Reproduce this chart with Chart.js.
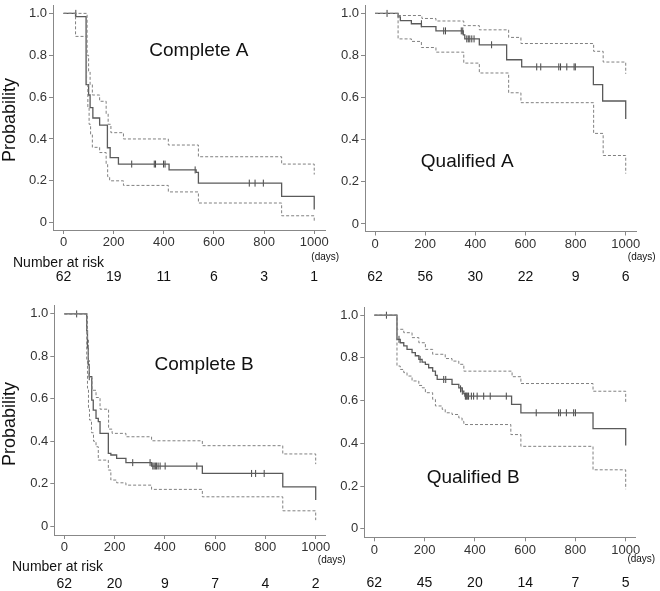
<!DOCTYPE html>
<html>
<head>
<meta charset="utf-8">
<script src="https://cdn.jsdelivr.net/npm/chart.js@4"></script>
<style>
    body { margin: 0; background: #fff; }
    #wrap { position: relative; width: 660px; height: 591px; }
    canvas { position: absolute; }
</style>
</head>
<body>
<div id="wrap">
    <canvas id="c1" width="350" height="290" style="left:0;top:0"></canvas>
    <canvas id="c2" width="330" height="290" style="left:330px;top:0"></canvas>
    <canvas id="c3" width="350" height="301" style="left:0;top:290px"></canvas>
    <canvas id="c4" width="330" height="301" style="left:330px;top:290px"></canvas>
</div>
<script>
const xTicks = [0, 200, 400, 600, 800, 1000];
const yTicks = [0, 0.2, 0.4, 0.6, 0.8, 1.0];
const riskDays = [0, 200, 400, 600, 800, 1000];

// Complete A
const estCA = [[0,1],[48,0.984],[90,0.66],[100,0.61],[106,0.55],[117,0.50],[144,0.466],[175,0.358],[186,0.311],[219,0.28],[421,0.252],[529,0.24],[538,0.189],[870,0.126],[1000,0.063]];
const upCA = [[0,1],[94,0.80],[100,0.72],[106,0.66],[115,0.61],[144,0.58],[170,0.52],[178,0.47],[189,0.43],[239,0.40],[418,0.371],[538,0.315],[870,0.28],[1000,0.23]];
const loCA = [[0,1],[48,0.89],[92,0.66],[97,0.55],[102,0.47],[108,0.42],[115,0.36],[144,0.335],[170,0.28],[176,0.22],[184,0.20],[239,0.178],[418,0.147],[538,0.094],[870,0.033],[1000,0.005]];
const censCA = [[49,1],[272,0.28],[362,0.28],[367,0.28],[399,0.28],[405,0.28],[525,0.252],[741,0.189],[764,0.189],[797,0.189]];
const riskCA = [62, 19, 11, 6, 3, 1];

// Qualified A
const estQA = [[0,1],[92,0.984],[101,0.966],[145,0.951],[185,0.937],[243,0.917],[352,0.898],[358,0.879],[416,0.851],[525,0.78],[585,0.746],[871,0.662],[908,0.584],[1000,0.498]];
const upQA = [[0,1],[92,0.99],[187,0.976],[243,0.964],[354,0.942],[416,0.922],[533,0.886],[582,0.857],[872,0.82],[910,0.769],[1000,0.713]];
const loQA = [[0,1],[92,0.879],[145,0.867],[185,0.838],[243,0.816],[354,0.764],[416,0.717],[533,0.623],[582,0.576],[872,0.43],[910,0.325],[1000,0.239]];
const censQA = [[48,1],[185,0.951],[274,0.917],[281,0.917],[344,0.917],[350,0.917],[366,0.879],[372,0.879],[378,0.879],[386,0.879],[395,0.879],[465,0.851],[645,0.746],[661,0.746],[733,0.746],[740,0.746],[765,0.746],[794,0.746],[799,0.746]];
const riskQA = [62, 56, 30, 22, 9, 6];

// Complete B
const estCB = [[0,1],[89,0.92],[92,0.84],[95,0.76],[99,0.704],[109,0.594],[115,0.547],[126,0.508],[135,0.492],[142,0.437],[175,0.343],[185,0.335],[208,0.319],[245,0.299],[347,0.283],[549,0.248],[869,0.185],[1000,0.123]];
const upCB = [[0,1],[92,0.88],[96,0.78],[100,0.70],[110,0.64],[126,0.606],[142,0.551],[176,0.457],[190,0.437],[245,0.421],[347,0.402],[549,0.379],[869,0.34],[1000,0.292]];
const loCB = [[0,1],[89,0.78],[92,0.65],[96,0.55],[100,0.50],[108,0.44],[116,0.40],[126,0.374],[135,0.311],[175,0.264],[185,0.217],[208,0.204],[245,0.193],[347,0.173],[549,0.138],[869,0.072],[1000,0.028]];
const censCB = [[49,1],[99,0.704],[272,0.299],[341,0.299],[352,0.283],[357,0.283],[362,0.283],[367,0.283],[373,0.283],[381,0.283],[401,0.283],[527,0.283],[745,0.248],[761,0.248],[795,0.248]];
const riskCB = [62, 20, 9, 7, 4, 2];

// Qualified B
const estQB = [[0,1],[90,0.887],[103,0.871],[117,0.856],[130,0.84],[150,0.825],[163,0.81],[177,0.793],[190,0.78],[203,0.77],[216,0.754],[232,0.738],[243,0.718],[250,0.699],[309,0.676],[336,0.66],[349,0.644],[356,0.633],[360,0.621],[546,0.582],[583,0.543],[870,0.469],[1000,0.39]];
const upQB = [[0,1],[90,0.934],[117,0.918],[150,0.895],[177,0.871],[203,0.84],[232,0.817],[282,0.797],[309,0.785],[336,0.77],[356,0.738],[548,0.712],[583,0.68],[870,0.644],[1000,0.586]];
const loQB = [[0,1],[90,0.762],[103,0.746],[117,0.731],[130,0.715],[150,0.692],[177,0.671],[190,0.66],[203,0.637],[232,0.606],[243,0.575],[270,0.559],[282,0.543],[309,0.535],[336,0.519],[349,0.503],[356,0.488],[543,0.441],[583,0.386],[870,0.276],[1000,0.185]];
const censQB = [[48,1],[98,0.887],[182,0.793],[276,0.699],[284,0.699],[343,0.655],[350,0.644],[362,0.621],[365,0.621],[368,0.621],[372,0.621],[375,0.621],[386,0.621],[395,0.621],[409,0.621],[435,0.621],[461,0.621],[525,0.621],[644,0.543],[733,0.543],[740,0.543],[764,0.543],[793,0.543],[800,0.543]];
const riskQB = [62, 45, 20, 14, 7, 5];

const FONT = 'Arial, "Liberation Sans", sans-serif';

// extra texts: panel label, number at risk, (days), y title
const annotate = {
    id: 'annotate',
    afterDraw(chart, args, o) {
        const { ctx, chartArea, scales: { x, y } } = chart;
        ctx.save();
        ctx.fillStyle = '#111';
        ctx.textAlign = 'center';
        ctx.textBaseline = 'middle';
        ctx.font = '19px ' + FONT;
        ctx.fillText(o.title, x.getPixelForValue(o.titleAt[0]), y.getPixelForValue(o.titleAt[1]));

        ctx.font = '14px ' + FONT;
        o.risk.forEach((n, i) => {
            ctx.fillText(String(n), x.getPixelForValue(riskDays[i]), chartArea.bottom + o.riskDy);
        });

        ctx.font = '10px ' + FONT;
        ctx.fillText('(days)', x.getPixelForValue(1000) + o.daysDx, chartArea.bottom + o.daysDy);

        if (o.left) {
            ctx.textAlign = 'left';
            ctx.font = '14px ' + FONT;
            ctx.fillText('Number at risk', o.narX, chartArea.bottom + o.narDy);
            ctx.translate(10, o.probY);
            ctx.rotate(-Math.PI / 2);
            ctx.textAlign = 'center';
            ctx.font = '18px ' + FONT;
            ctx.fillText('Probability', 0, 0);
        }
        ctx.restore();
    }
};

function pts(arr) {
    return arr.map(d => ({ x: d[0], y: d[1] }));
}

function curve(arr, color, width, dash) {
    return {
        data: pts(arr),
        borderColor: color,
        borderWidth: width,
        borderDash: dash,
        stepped: true,
        pointRadius: 0,
        fill: false
    };
}

function makePanel(id, p) {
    new Chart(document.getElementById(id), {
        type: 'line',
        data: {
            datasets: [
                curve(p.up, '#808080', 1, [3, 2]),
                curve(p.lo, '#808080', 1, [3, 2]),
                curve(p.est, '#5a5a5a', 1.3, []),
                {
                    data: pts(p.cens),
                    showLine: false,
                    pointStyle: 'line',
                    rotation: 90,
                    pointRadius: 3.5,
                    borderColor: '#444',
                    borderWidth: 1
                }
            ]
        },
        options: {
            responsive: false,
            animation: false,
            events: [],
            layout: { padding: { top: p.top, right: p.right, left: 0, bottom: 0 } },
            plugins: {
                legend: { display: false },
                tooltip: { enabled: false },
                annotate: p.note
            },
            scales: {
                x: {
                    type: 'linear',
                    min: p.xmin,
                    max: p.xmax,
                    afterBuildTicks: s => { s.ticks = xTicks.map(v => ({ value: v })); },
                    afterFit: s => { s.height = p.xh; s.paddingLeft = 0; s.paddingRight = 0; },
                    grid: { drawOnChartArea: false, tickLength: 4, color: '#888' },
                    border: { color: '#888', width: 1 },
                    ticks: {
                        font: { size: 13, family: FONT },
                        color: '#333',
                        padding: 1,
                        maxRotation: 0,
                        autoSkip: false,
                        callback: v => String(v)
                    }
                },
                y: {
                    min: p.ymin,
                    max: p.ymax,
                    afterBuildTicks: s => { s.ticks = yTicks.map(v => ({ value: v })); },
                    afterFit: s => { s.width = p.yw; s.paddingTop = 0; s.paddingBottom = 0; },
                    grid: { drawOnChartArea: false, tickLength: 4, color: '#888' },
                    border: { color: '#888', width: 1 },
                    ticks: {
                        font: { size: 13, family: FONT },
                        color: '#333',
                        padding: 2,
                        callback: v => (v === 0 ? '0' : v.toFixed(1))
                    }
                }
            }
        },
        plugins: [annotate]
    });
}

makePanel('c1', {
    est: estCA, up: upCA, lo: loCA, cens: censCA,
    xmin: -42, xmax: 1043, ymin: -0.035, ymax: 1.04,
    top: 2, right: 25, yw: 53, xh: 60,
    note: { title: 'Complete A', titleAt: [540, 0.823], risk: riskCA, riskDy: 47, daysDx: 11, daysDy: 27, left: true, narX: 13, narDy: 33, probY: 120 }
});
makePanel('c2', {
    est: estQA, up: upQA, lo: loQA, cens: censQA,
    xmin: -40, xmax: 1041, ymin: -0.036, ymax: 1.04,
    top: 3, right: 24, yw: 35, xh: 58.5,
    note: { title: 'Qualified A', titleAt: [368, 0.293], risk: riskQA, riskDy: 45.5, daysDx: 16, daysDy: 25.5, left: false }
});
makePanel('c3', {
    est: estCB, up: upCB, lo: loCB, cens: censCB,
    xmin: -40, xmax: 1037, ymin: -0.042, ymax: 1.042,
    top: 15, right: 25, yw: 54.3, xh: 56,
    note: { title: 'Complete B', titleAt: [556, 0.759], risk: riskCB, riskDy: 49, daysDx: 16, daysDy: 25, left: true, narX: 12, narDy: 32, probY: 134 }
});
makePanel('c4', {
    est: estQB, up: upQB, lo: loQB, cens: censQB,
    xmin: -40, xmax: 1037, ymin: -0.04, ymax: 1.036,
    top: 17.5, right: 25, yw: 34.3, xh: 53.7,
    note: { title: 'Qualified B', titleAt: [393, 0.237], risk: riskQB, riskDy: 46, daysDx: 15.6, daysDy: 21.7, left: false }
});
</script>
</body>
</html>
